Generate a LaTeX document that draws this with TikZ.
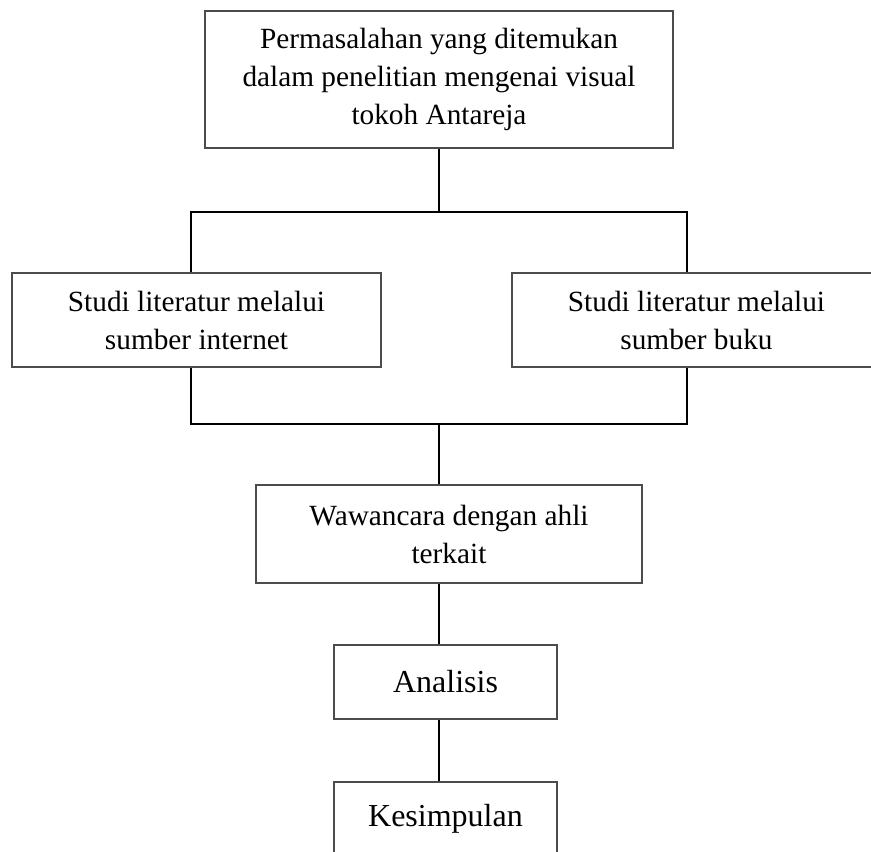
\documentclass[tikz,border=0pt]{standalone}
\usepackage{fontspec}
\setmainfont{Liberation Serif}
\usetikzlibrary{positioning}

\begin{document}
\begin{tikzpicture}[x=1pt,y=-1pt,
		kotak/.style={rectangle,draw=black!70,line width=2.6pt,inner sep=0pt,align=center,
			font=\fontsize{29.3}{38}\selectfont},
		kotak besar/.style={kotak,font=\fontsize{32}{38}\selectfont},
		garis/.style={black,line width=1.2pt}
	]
	\clip (0,0) rectangle (871,852);

	\node[kotak,minimum width=468pt,minimum height=137pt] (masalah) at (439,79.5)
		{Permasalahan yang ditemukan\\dalam penelitian mengenai visual\\tokoh Antareja};
	\node[kotak,minimum width=369pt,minimum height=94pt] (internet) at (196.5,320)
		{Studi literatur melalui\\sumber internet};
	\node[kotak,minimum width=369pt,minimum height=94pt] (buku) at (696.5,320)
		{Studi literatur melalui\\sumber buku};
	\node[kotak,minimum width=386pt,minimum height=98pt] (wawancara) at (449,534)
		{Wawancara dengan ahli\\terkait};
	\node[kotak besar,minimum width=223pt,minimum height=74pt] (analisis) at (445.5,682) {Analisis};
	\node[kotak besar,minimum width=223pt,minimum height=74pt] (kesimpulan) at (445.5,819) {Kesimpulan};

	% titik cabang
	\coordinate (poros) at (439,0);
	\coordinate (cabangKiri) at (191,212);
	\coordinate (cabangKanan) at (687,212);
	\coordinate (gabungKiri) at (191,424);
	\coordinate (gabungKanan) at (687,424);

	\draw[garis] (masalah.south -| poros) -- (cabangKiri -| poros);
	\draw[garis] (cabangKiri |- internet.north) -- (cabangKiri) -- (cabangKanan) -- (cabangKanan |- buku.north);
	\draw[garis] (gabungKiri |- internet.south) -- (gabungKiri) -- (gabungKanan) -- (gabungKanan |- buku.south);
	\draw[garis] (gabungKiri -| poros) -- (wawancara.north -| poros);
	\draw[garis] (wawancara.south -| poros) -- (analisis.north -| poros);
	\draw[garis] (analisis.south -| poros) -- (kesimpulan.north -| poros);
\end{tikzpicture}
\end{document}
